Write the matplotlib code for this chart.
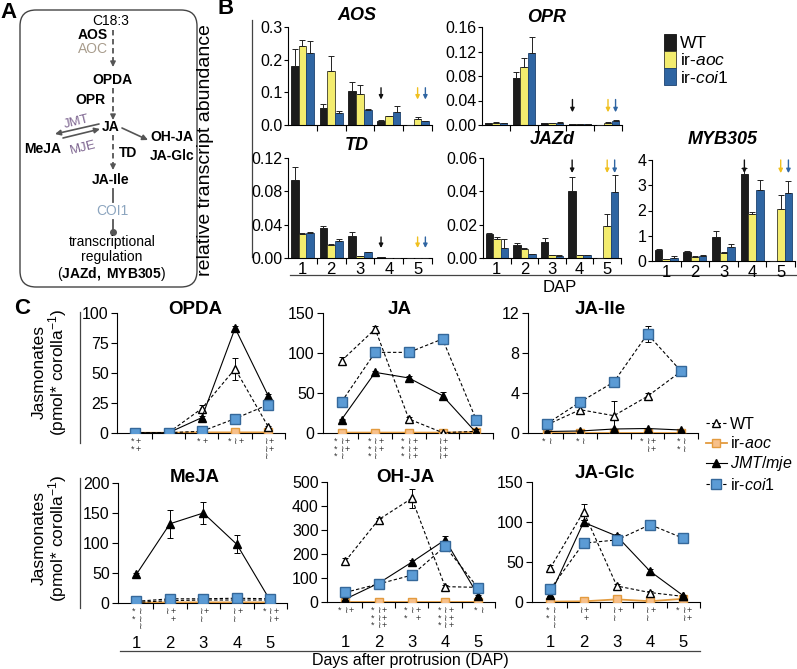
import matplotlib
matplotlib.use("Agg")
import matplotlib.pyplot as plt
import numpy as np
from matplotlib.patches import FancyBboxPatch, Patch
from matplotlib.lines import Line2D
from matplotlib.transforms import offset_copy

plt.rcParams['font.family'] = ['Liberation Sans', 'DejaVu Sans']
plt.rcParams['mathtext.fontset'] = 'custom'
plt.rcParams['mathtext.rm'] = 'Liberation Sans'
plt.rcParams['mathtext.it'] = 'Liberation Sans:italic'
plt.rcParams['mathtext.bf'] = 'Liberation Sans:bold'
plt.rcParams['axes.linewidth'] = 0.8

# ---------------- data: panel B (relative transcript abundance) ----------------
days = [1, 2, 3, 4, 5]
genotypes_b = ['WT', 'ir-$\\it{aoc}$', 'ir-$\\it{coi1}$']

aos_wt = [0.181, 0.051, 0.104, 0.012, 0]
aos_wt_err = [0.051, 0.013, 0.028, 0.003, 0]
aos_aoc = [0.241, 0.166, 0.095, 0.027, 0.018]
aos_aoc_err = [0.020, 0.046, 0.027, 0.001, 0.005]
aos_coi = [0.219, 0.038, 0.046, 0.041, 0.011]
aos_coi_err = [0.038, 0.006, 0.002, 0.017, 0.001]

opr_wt = [0.003, 0.077, 0.003, 0.002, 0]
opr_wt_err = [0.0005, 0.009, 0.0005, 0.0003, 0]
opr_aoc = [0.004, 0.094, 0.003, 0.002, 0.004]
opr_aoc_err = [0.0005, 0.015, 0.0005, 0.0003, 0.0008]
opr_coi = [0.003, 0.118, 0.004, 0.002, 0.007]
opr_coi_err = [0.0005, 0.025, 0.0005, 0.0003, 0.0005]

td_wt = [0.093, 0.036, 0.027, 0.001, 0]
td_wt_err = [0.016, 0.002, 0.004, 0.0003, 0]
td_aoc = [0.029, 0.016, 0.002, 0.0005, 0.0003]
td_aoc_err = [0.001, 0.001, 0.0003, 0.0001, 0.0001]
td_coi = [0.030, 0.021, 0.007, 0.0005, 0.0003]
td_coi_err = [0.001, 0.002, 0.0005, 0.0001, 0.0001]

jazd_wt = [0.0144, 0.008, 0.0096, 0.0404, 0]
jazd_wt_err = [0.0008, 0.001, 0.0024, 0.008, 0]
jazd_aoc = [0.0116, 0.0056, 0.0016, 0.0016, 0.0194]
jazd_aoc_err = [0.001, 0.0006, 0.0003, 0.0003, 0.007]
jazd_coi = [0.006, 0.0024, 0.0014, 0.0018, 0.0394]
jazd_coi_err = [0.0056, 0.0003, 0.0002, 0.0002, 0.0106]

myb_wt = [0.42, 0.36, 0.95, 3.45, 0]
myb_wt_err = [0.05, 0.05, 0.25, 0.22, 0]
myb_aoc = [0.06, 0.15, 0.32, 1.88, 2.05]
myb_aoc_err = [0.01, 0.03, 0.05, 0.07, 0.55]
myb_coi = [0.12, 0.20, 0.57, 2.80, 2.68]
myb_coi_err = [0.06, 0.03, 0.10, 0.40, 0.50]

# ---------------- data: panel C (jasmonates, pmol per corolla) ----------------
genotypes_c = ['WT', 'ir-$\\it{aoc}$', '$\\it{JMT/mje}$', 'ir-$\\it{coi1}$']

opda_wt = [0.3, 0.3, 20.4, 53.5, 5]
opda_wt_err = [0, 0, 3, 9, 1]
opda_aoc = [0.2, 0.2, 0.5, 0.5, 0.5]
opda_jmt = [0.2, 0.2, 12.8, 87.4, 30.7]
opda_jmt_err = [0, 0, 1, 2, 2]
opda_coi = [0.3, 0.3, 1.4, 12, 23.7]
opda_coi_err = [0, 0, 0.5, 1, 2]

ja_wt = [90.4, 130, 17.5, 0.5, 2]
ja_wt_err = [4, 4, 2, 0.3, 3]
ja_aoc = [0.5, 0.5, 0.5, 0.5, 1]
ja_jmt = [16.7, 75.8, 68.8, 46.7, 0.5]
ja_jmt_err = [1, 2, 2, 5, 0.5]
ja_coi = [38.8, 100.8, 100.8, 117.5, 16.7]
ja_coi_err = [1, 2, 2, 5, 1]

jaile_wt = [0.8, 2.33, 1.73, 3.67, 6.17]
jaile_wt_err = [0.1, 0.3, 1.5, 0.35, 0.4]
jaile_aoc = [0.05, 0.05, 0.05, 0.05, 0.05]
jaile_jmt = [0.15, 0.2, 0.4, 0.45, 0.3]
jaile_jmt_err = [0.05, 0.05, 0.05, 0.05, 0.05]
jaile_coi = [0.9, 3.1, 5.1, 9.9, 6.17]
jaile_coi_err = [0.1, 0.2, 0.3, 0.8, 0.5]

meja_wt = [1, 4, 5, 5, 5]
meja_wt_err = [0.5, 0.5, 0.5, 0.5, 0.5]
meja_aoc = [0.5, 1, 1, 1, 1]
meja_jmt = [47.8, 132, 150, 97.8, 4]
meja_jmt_err = [2, 23, 19, 15, 1]
meja_coi = [2.8, 7, 7, 8, 7]
meja_coi_err = [1, 1, 1, 1, 1]

ohja_wt = [170, 343, 432, 64, 61]
ohja_wt_err = [15, 5, 40, 5, 10]
ohja_aoc = [1, 1, 1, 1, 1]
ohja_jmt = [12, 78, 166, 259, 26]
ohja_jmt_err = [5, 5, 8, 15, 5]
ohja_coi = [40, 75, 112, 232, 57]
ohja_coi_err = [5, 5, 15, 10, 15]

jaglc_wt = [42.4, 113, 20, 11.8, 7]
jaglc_wt_err = [4, 10, 3, 2, 1]
jaglc_aoc = [0.5, 0.8, 3.3, 1, 4]
jaglc_jmt = [9, 99.6, 82.4, 38.4, 7.8]
jaglc_jmt_err = [2, 3, 3, 3, 1]
jaglc_coi = [16, 73.5, 77.6, 96.7, 79.6]
jaglc_coi_err = [2, 2, 2, 2, 3]

# significance marks per day: (n stars, n tildes, n plus)
opda_sig = [(2, 0, 2), (0, 0, 0), (1, 0, 1), (1, 1, 1), (0, 3, 2)]
ja_sig = [(3, 3, 2), (3, 3, 2), (3, 3, 3), (0, 3, 3), (0, 0, 0)]
jaile_sig = [(1, 1, 0), (1, 1, 0), (0, 0, 0), (1, 2, 2), (2, 2, 0)]
meja_sig = [(2, 3, 0), (0, 1, 2), (0, 2, 1), (0, 2, 1), (1, 2, 2)]
ohja_sig = [(1, 1, 1), (3, 3, 3), (2, 1, 2), (3, 3, 3), (1, 1, 0)]
jaglc_sig = [(2, 3, 0), (0, 1, 2), (0, 2, 1), (0, 2, 1), (1, 2, 2)]

# ---------------- figure ----------------
W, H = 797, 669
fig = plt.figure(figsize=(W / 100, H / 100), dpi=100)

ov = fig.add_axes([0, 0, 1, 1])
ov.set_xlim(0, W)
ov.set_ylim(H, 0)
ov.axis('off')


def px_axes(x0, y0, x1, y1):
    return fig.add_axes([x0 / W, 1 - y1 / H, (x1 - x0) / W, (y1 - y0) / H])


def t(x, y, s, **kw):
    kw.setdefault('ha', 'center')
    kw.setdefault('va', 'center')
    ov.text(x, y, s, **kw)


# ---------------- panel A: pathway scheme ----------------
t(9, 12, 'A', fontsize=16, fontweight='bold')
ov.add_patch(FancyBboxPatch((20, 10), 177, 277, boxstyle='round,pad=0,rounding_size=16',
                            fc='none', ec='#444444', lw=1))
grey = '#555555'
fsA = 10


def dash_arrow(x, y0, y1):
    ov.plot([x, x], [y0, y1 - 4], ls=(0, (3, 2)), color=grey, lw=1.3)
    ov.annotate('', xy=(x, y1), xytext=(x, y1 - 5),
                arrowprops=dict(arrowstyle='-|>', color=grey, lw=1, mutation_scale=8,
                                shrinkA=0, shrinkB=0))


t(111, 21, 'C18:3', fontsize=fsA)
t(108, 35, 'AOS', fontsize=fsA, fontweight='bold', ha='right')
t(108, 49, 'AOC', fontsize=fsA, color='#a89c8c', ha='right')
dash_arrow(113, 30, 67)
t(112, 80, 'OPDA', fontsize=fsA, fontweight='bold')
t(106, 100, 'OPR', fontsize=fsA, fontweight='bold', ha='right')
dash_arrow(113, 88, 120)
t(111, 127, 'JA', fontsize=fsA, fontweight='bold')
ov.annotate('', xy=(55, 134), xytext=(99, 124),
            arrowprops=dict(arrowstyle='-|>', color=grey, lw=1.2, mutation_scale=8,
                            shrinkA=0, shrinkB=0))
ov.annotate('', xy=(100, 129), xytext=(63, 138),
            arrowprops=dict(arrowstyle='-|>', color=grey, lw=1.2, mutation_scale=8,
                            shrinkA=0, shrinkB=0))
t(77, 122, 'JMT', fontsize=fsA - 0.5, color='#7d6590', rotation=14)
t(83, 148, 'MJE', fontsize=fsA - 0.5, color='#7d6590', rotation=14)
t(43, 149, 'MeJA', fontsize=fsA, fontweight='bold')
ov.annotate('', xy=(148, 140), xytext=(122, 128),
            arrowprops=dict(arrowstyle='-|>', color=grey, lw=1.2, mutation_scale=8,
                            shrinkA=0, shrinkB=0))
t(172, 137, 'OH-JA', fontsize=fsA, fontweight='bold')
t(172, 156, 'JA-Glc', fontsize=fsA, fontweight='bold')
dash_arrow(113, 135, 170)
t(128, 153, 'TD', fontsize=fsA, fontweight='bold')
t(111, 180, 'JA-Ile', fontsize=fsA, fontweight='bold')
ov.plot([113, 113], [189, 202], color=grey, lw=1.3)
t(112, 211, 'COI1', fontsize=fsA, color='#8ca5bf')
ov.plot([113, 113], [220, 232], color=grey, lw=1.3)
ov.plot([113], [232], 'o', color=grey, ms=4)
t(112, 242, 'transcriptional', fontsize=fsA)
t(112, 257, 'regulation', fontsize=fsA)
t(112, 274, '($\\bf{JAZd,\\ MYB305}$)', fontsize=fsA)

# ---------------- panel B: bar charts ----------------
t(226, 9, 'B', fontsize=16, fontweight='bold')
t(206, 150, 'relative transcript abundance', fontsize=14, rotation=90)
ov.plot([252, 252], [20, 257], color='#444444', lw=0.9)
ov.plot([290, 797], [275, 275], color='#444444', lw=0.9)
t(560, 287, 'DAP', fontsize=12)

bar_colors = ['#1c1c1c', '#f3ec6e', '#2f65a2']
bar_edges = ['#111111', '#3a3a2a', '#1d4270']
arrow_colors = ['#111111', '#f0c020', '#2f65a2']
bw = 0.27

b_panels = [
    ((288, 27, 432, 125), 'AOS', (aos_wt, aos_aoc, aos_coi), (aos_wt_err, aos_aoc_err, aos_coi_err),
     [0, 0.1, 0.2, 0.3], '%.1f', False, (357, 15), (0.38, 0.26)),
    ((482, 27, 622, 125), 'OPR', (opr_wt, opr_aoc, opr_coi), (opr_wt_err, opr_aoc_err, opr_coi_err),
     [0, 0.04, 0.08, 0.12, 0.16], '%.2f', False, (547, 18), (0.26, 0.13)),
    ((288, 158, 432, 258), 'TD', (td_wt, td_aoc, td_coi), (td_wt_err, td_aoc_err, td_coi_err),
     [0, 0.04, 0.08, 0.12], '%.2f', True, (357, 145), (0.21, 0.10)),
    ((483, 158, 621, 258), 'JAZd', (jazd_wt, jazd_aoc, jazd_coi), (jazd_wt_err, jazd_aoc_err, jazd_coi_err),
     [0, 0.02, 0.04, 0.06], '%.2f', True, (552, 140), (0.98, 0.85)),
    ((652, 160, 795, 261), 'MYB305', (myb_wt, myb_aoc, myb_coi), (myb_wt_err, myb_aoc_err, myb_coi_err),
     [0, 1, 2, 3, 4], '%d', True, (723, 140), (1.0, 0.87)),
]

for rect, title, vals, errs, yt, fmt, xlab, tpos, arr in b_panels:
    ax = px_axes(*rect)
    x = np.array(days, dtype=float)
    for i in range(3):
        xi = x + (i - 1) * bw
        ax.bar(xi, vals[i], width=bw, color=bar_colors[i], edgecolor=bar_edges[i], lw=0.6, zorder=2)
        ax.errorbar(xi, vals[i], yerr=[np.zeros(5), errs[i]], fmt='none', ecolor='#222222',
                    elinewidth=0.7, capsize=2, capthick=0.7, zorder=3)
    ax.set_xlim(0.5, 5.5)
    ax.set_ylim(0, yt[-1])
    ax.set_yticks(yt)
    ax.set_yticklabels([fmt % v for v in yt])
    ax.set_xticks([1.5, 2.5, 3.5, 4.5, 5.5])
    ax.set_xticklabels([])
    ax.set_xticks(days, minor=True)
    ax.set_xticklabels([str(d) for d in days] if xlab else [], minor=True)
    ax.tick_params(axis='x', which='minor', length=0, pad=3, labelsize=12)
    ax.tick_params(axis='x', which='major', length=4, width=0.8, direction='out')
    ax.tick_params(axis='y', length=3, width=0.8, labelsize=11.5, pad=1)
    for s in ['top', 'right']:
        ax.spines[s].set_visible(False)
    ax.patch.set_alpha(0)
    t(tpos[0], tpos[1], title, fontsize=13, fontweight='bold', style='italic')
    # arrows: WT lost at day 4, mutants at day 5
    for xa, c in [(4 - bw, arrow_colors[0]), (5, arrow_colors[1]), (5 + bw, arrow_colors[2])]:
        ax.annotate('', xy=(xa, arr[1]), xytext=(xa, arr[0]), xycoords=('data', 'axes fraction'),
                    textcoords=('data', 'axes fraction'),
                    arrowprops=dict(arrowstyle='-|>', color=c, lw=1, mutation_scale=6,
                                    shrinkA=0, shrinkB=0), annotation_clip=False)

fig.legend([Patch(fc=bar_colors[i], ec=bar_edges[i], lw=0.6) for i in range(3)], genotypes_b,
           loc='upper left', bbox_to_anchor=(664 / W, 1 - 34 / H), frameon=False, fontsize=12.5,
           handlelength=0.7, handleheight=1.1, handletextpad=0.2, labelspacing=0.0,
           borderaxespad=0, borderpad=0)

# ---------------- panel C: line charts ----------------
t(22, 308, 'C', fontsize=16, fontweight='bold')
ylab_c = 'Jasmonates\n(pmol* corolla$^{-1}$)'
t(50, 372, ylab_c, fontsize=12.5, rotation=90, linespacing=0.95)
t(50, 538, ylab_c, fontsize=12.5, rotation=90, linespacing=0.95)
ov.plot([80, 80], [312, 443], color='#444444', lw=0.9)
ov.plot([80, 80], [478, 608], color='#444444', lw=0.9)
ov.plot([120, 700], [651, 651], color='#444444', lw=0.9)
t(410, 661, 'Days after protrusion (DAP)', fontsize=11.5)

styles = [
    dict(color='k', ls=(0, (3, 2)), lw=0.8, marker='^', mfc='white', mec='k', ms=6, zorder=4),
    dict(color='#e39b3f', ls='-', lw=1.3, marker='s', mfc='#f7c08a', mec='#e39b3f', ms=6, zorder=3),
    dict(color='k', ls='-', lw=0.8, marker='^', mfc='k', mec='k', ms=6, zorder=5),
    dict(color='k', ls=(0, (3, 2)), lw=0.8, marker='s', mfc='#5b9bd5', mec='#35689a', ms=6.5, zorder=6),
]

c_panels = [
    ((117, 313, 285, 433), 'OPDA', (opda_wt, opda_aoc, opda_jmt, opda_coi),
     (opda_wt_err, None, opda_jmt_err, opda_coi_err), [0, 25, 50, 75, 100], False, opda_sig, (195, 310)),
    ((323, 313, 493, 433), 'JA', (ja_wt, ja_aoc, ja_jmt, ja_coi),
     (ja_wt_err, None, ja_jmt_err, ja_coi_err), [0, 50, 100, 150], False, ja_sig, (400, 310)),
    ((528, 313, 698, 433), 'JA-Ile', (jaile_wt, jaile_aoc, jaile_jmt, jaile_coi),
     (jaile_wt_err, None, jaile_jmt_err, jaile_coi_err), [0, 4, 8, 12], False, jaile_sig, (600, 310)),
    ((118, 483, 287, 603), 'MeJA', (meja_wt, meja_aoc, meja_jmt, meja_coi),
     (meja_wt_err, None, meja_jmt_err, meja_coi_err), [0, 50, 100, 150, 200], True, meja_sig, (195, 477)),
    ((327, 482, 495, 602), 'OH-JA', (ohja_wt, ohja_aoc, ohja_jmt, ohja_coi),
     (ohja_wt_err, None, ohja_jmt_err, ohja_coi_err), [0, 100, 200, 300, 400, 500], True, ohja_sig, (405, 477)),
    ((532, 482, 700, 602), 'JA-Glc', (jaglc_wt, jaglc_aoc, jaglc_jmt, jaglc_coi),
     (jaglc_wt_err, None, jaglc_jmt_err, jaglc_coi_err), [0, 50, 100, 150], True, jaglc_sig, (605, 474)),
]

for rect, title, vals, errs, yt, xlab, sig, tpos in c_panels:
    ax = px_axes(*rect)
    for i in range(4):
        ax.plot(days, vals[i], **styles[i])
        if errs[i] is not None:
            ax.errorbar(days, vals[i], yerr=errs[i], fmt='none', ecolor='k', elinewidth=0.7,
                        capsize=2.5, capthick=0.7, zorder=styles[i]['zorder'] - 0.5)
    ax.set_xlim(0.45, 5.5)
    ax.set_ylim(0, yt[-1])
    ax.set_yticks(yt)
    ax.set_xticks([1.5, 2.5, 3.5, 4.5, 5.5])
    ax.set_xticklabels([])
    ax.set_xticks(days, minor=True)
    ax.set_xticklabels([str(d) for d in days] if xlab else [], minor=True)
    ax.tick_params(axis='x', which='minor', length=0, pad=24, labelsize=12)
    ax.tick_params(axis='x', which='major', length=4, width=0.8, direction='out')
    ax.tick_params(axis='y', length=4, width=0.8, labelsize=11.5, pad=2)
    for s in ['top', 'right']:
        ax.spines[s].set_visible(False)
    ax.patch.set_alpha(0)
    t(tpos[0], tpos[1], title, fontsize=13.5, fontweight='bold')
    # significance symbols, one stacked column per symbol type under each day
    base = ax.get_xaxis_transform()
    for d, (ns, nt, npl) in zip(days, sig):
        cols = [(c, n) for c, n in (('*', ns), ('\u2240', nt), ('+', npl)) if n > 0]
        for ci, (ch, n) in enumerate(cols):
            dx = (ci - (len(cols) - 1) / 2) * 6
            tr = offset_copy(base, fig=fig, x=dx, y=-4, units='dots')
            ax.text(d, 0, '\n'.join([ch] * n), transform=tr, ha='center', va='top',
                    fontsize=6.5, linespacing=0.8, color='#333333')

c_handles = [Line2D([], [], **{k: v for k, v in st.items() if k != 'zorder'}) for st in styles]
fig.legend(c_handles, genotypes_c, loc='upper left', bbox_to_anchor=(706 / W, 1 - 417 / H),
           frameon=False, fontsize=11.5, handlelength=1.3, handletextpad=0.2, labelspacing=0.2,
           borderaxespad=0, borderpad=0, numpoints=1)

fig.savefig('out.png', dpi=100)
